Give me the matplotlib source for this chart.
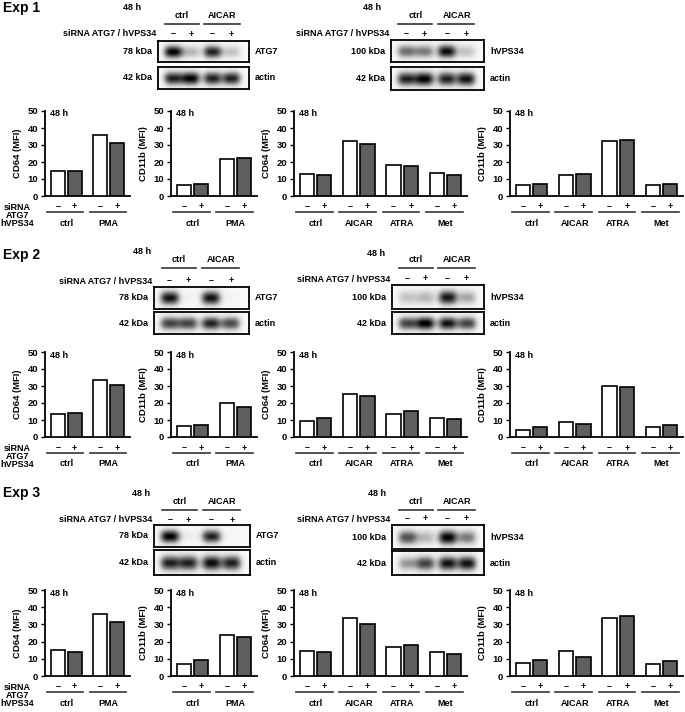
import numpy as np
import matplotlib
matplotlib.use('Agg')
import matplotlib.pyplot as plt
from matplotlib.transforms import blended_transform_factory

plt.rcParams['font.family'] = ['Liberation Sans', 'DejaVu Sans']
plt.rcParams['font.weight'] = 'bold'

# ---------------- data ----------------
groups_pma = ['ctrl', 'PMA']
groups_ind = ['ctrl', 'AICAR', 'ATRA', 'Met']
sirna_marks = ['\u2013', '+']

# Exp 1 (MFI), siRNA - / +
e1_cd64_pma_neg = [15.0, 35.7]
e1_cd64_pma_pos = [14.7, 31.1]
e1_cd11b_pma_neg = [6.3, 21.8]
e1_cd11b_pma_pos = [6.9, 22.2]
e1_cd64_ind_neg = [13.2, 32.2, 18.1, 13.7]
e1_cd64_ind_pos = [12.5, 30.3, 17.8, 12.5]
e1_cd11b_ind_neg = [6.2, 12.4, 32.6, 6.4]
e1_cd11b_ind_pos = [6.8, 12.9, 33.2, 7.3]
# Exp 2
e2_cd64_pma_neg = [13.7, 33.5]
e2_cd64_pma_pos = [13.9, 30.4]
e2_cd11b_pma_neg = [6.2, 20.0]
e2_cd11b_pma_pos = [7.2, 17.8]
e2_cd64_ind_neg = [9.2, 25.5, 13.5, 11.0]
e2_cd64_ind_pos = [11.0, 23.9, 15.3, 10.6]
e2_cd11b_ind_neg = [4.3, 8.8, 30.2, 5.9]
e2_cd11b_ind_pos = [6.1, 7.6, 29.6, 7.3]
# Exp 3
e3_cd64_pma_neg = [15.1, 36.0]
e3_cd64_pma_pos = [14.1, 31.4]
e3_cd11b_pma_neg = [7.1, 24.0]
e3_cd11b_pma_pos = [9.2, 22.7]
e3_cd64_ind_neg = [14.7, 33.5, 16.9, 13.8]
e3_cd64_ind_pos = [13.8, 30.2, 17.8, 13.0]
e3_cd11b_ind_neg = [7.7, 14.5, 33.9, 7.0]
e3_cd11b_ind_pos = [9.1, 10.9, 35.1, 8.5]

# Western blot band intensities (lanes: ctrl-, ctrl+, AICAR-, AICAR+)
e1_atg7 = [0.95, 0.35, 0.85, 0.30]
e1_actin_l = [0.85, 0.95, 0.85, 0.85]
e1_vps34 = [0.60, 0.55, 0.92, 0.30]
e1_actin_r = [0.85, 0.95, 0.85, 0.90]
e2_atg7 = [0.90, 0.05, 0.90, 0.04]
e2_actin_l = [0.75, 0.75, 0.85, 0.72]
e2_vps34 = [0.30, 0.35, 0.88, 0.40]
e2_actin_r = [0.75, 0.97, 0.90, 0.75]
e3_atg7 = [0.95, 0.10, 0.85, 0.03]
e3_actin_l = [0.85, 0.85, 0.92, 0.85]
e3_vps34 = [0.70, 0.35, 0.95, 0.55]
e3_actin_r = [0.45, 0.75, 0.90, 0.90]

# ---------------- figure ----------------
W, H = 685, 712
fig = plt.figure(figsize=(W / 100, H / 100), dpi=100)
ov = fig.add_axes([0, 0, 1, 1], zorder=5)
ov.set_xlim(0, W)
ov.set_ylim(H, 0)
ov.axis('off')
ov.patch.set_visible(False)

FS = 6.5
GRAY = '#5f5f5f'


def ax_px(x0, y0, x1, y1):
    return fig.add_axes([x0 / W, 1 - y1 / H, (x1 - x0) / W, (y1 - y0) / H])


def t(x, y, s, ha='center', va='center', size=FS, **kw):
    ov.text(x, y, s, ha=ha, va=va, fontsize=size, fontweight='bold', **kw)


def bar_panel(x0, x1, ytop, ybot, groups, neg, pos, ylabel, left_labels=False):
    ax = ax_px(x0, ytop, x1, ybot)
    n = len(groups)
    xs = np.arange(n)
    ax.bar(xs - 0.2, neg, width=0.33, color='white', edgecolor='black', linewidth=1.2, zorder=3)
    ax.bar(xs + 0.2, pos, width=0.33, color=GRAY, edgecolor='black', linewidth=1.2, zorder=3)
    ax.set_xlim(-0.5, n - 0.5)
    ax.set_ylim(0, 50)
    ax.set_yticks([0, 10, 20, 30, 40, 50])
    ax.set_xticks([])
    for s in ['top', 'right']:
        ax.spines[s].set_visible(False)
    for s in ['left', 'bottom']:
        ax.spines[s].set_linewidth(1.3)
    ax.tick_params(axis='y', length=3, width=1, labelsize=FS + 0.3, pad=2)
    for lab in ax.get_yticklabels():
        lab.set_fontweight('bold')
    ax.patch.set_visible(False)
    t(x0 - 27, (ytop + ybot) / 2, ylabel, rotation=90, size=FS + 0.3)
    t(x0 + 5, ytop + 3, '48 h', ha='left')
    tr = blended_transform_factory(ax.transData, ov.transData)
    for i, g in enumerate(groups):
        ax.text(i - 0.2, ybot + 11, sirna_marks[0], transform=tr, ha='center', va='center',
                fontsize=FS, fontweight='bold', clip_on=False)
        ax.text(i + 0.2, ybot + 11, sirna_marks[1], transform=tr, ha='center', va='center',
                fontsize=FS, fontweight='bold', clip_on=False)
        ax.plot([i - 0.45, i + 0.4], [ybot + 16, ybot + 16], transform=tr, color='#333333',
                lw=1.2, clip_on=False)
        ax.text(i, ybot + 27, g, transform=tr, ha='center', va='center',
                fontsize=FS, fontweight='bold', clip_on=False)
    if left_labels:
        t(17, ybot + 11.5, 'siRNA')
        t(17, ybot + 19.5, 'ATG7')
        t(17, ybot + 27.5, 'hVPS34')
    return ax


LANE_FR = np.array([0.165, 0.36, 0.6, 0.81])


def band_box(x0, x1, y0, y1, intens):
    ax = ax_px(x0, y0, x1, y1)
    xx, yy = np.meshgrid(np.linspace(0, 4, 240), np.linspace(0, 1, 70))
    img = np.full(xx.shape, 0.05)
    for lane, v in zip(LANE_FR * 4, intens):
        img += v * np.exp(-np.abs((xx - lane) / 0.42) ** 3 - ((yy - 0.52) / 0.32) ** 2)
    img = np.clip(img, 0, 1)
    ax.imshow(img, cmap='Greys', vmin=0, vmax=1.0, extent=[0, 4, 0, 1], aspect='auto',
              interpolation='bilinear')
    ax.set_xticks([])
    ax.set_yticks([])
    for s in ax.spines.values():
        s.set_linewidth(1.3)
    return ax


def blot(bx0, bx1, b1, b2, x48, y48, yctrl, yline, ypm, prot, kda, i1, i2):
    band_box(bx0, bx1, b1[0], b1[1], i1)
    band_box(bx0, bx1, b2[0], b2[1], i2)
    lanes = bx0 + LANE_FR * (bx1 - bx0)
    t(x48, y48, '48 h', ha='left')
    t((lanes[0] + lanes[1]) / 2, yctrl, 'ctrl')
    t((lanes[2] + lanes[3]) / 2, yctrl, 'AICAR')
    ov.plot([lanes[0] - 8, lanes[1] + 8], [yline, yline], color='#333333', lw=1.2)
    ov.plot([lanes[2] - 9, lanes[3] + 8], [yline, yline], color='#333333', lw=1.2)
    t(bx0 - 2, ypm, 'siRNA ATG7 / hVPS34', ha='right')
    for k, lx in enumerate(lanes):
        t(lx, ypm, sirna_marks[k % 2])
    t(bx0 - 6, (b1[0] + b1[1]) / 2, kda, ha='right')
    t(bx0 - 6, (b2[0] + b2[1]) / 2, '42 kDa', ha='right')
    t(bx1 + 6, (b1[0] + b1[1]) / 2, prot, ha='left')
    t(bx1 + 6, (b2[0] + b2[1]) / 2, 'actin', ha='left')


# ---------- Exp 1 ----------
t(3, 8, 'Exp 1', ha='left', size=10)
blot(158, 249, (41, 62), (67, 89), 123, 7, 16, 24, 34, 'ATG7', '78 kDa', e1_atg7, e1_actin_l)
blot(391, 484, (40, 62), (67, 90), 363, 7, 16, 24, 34, 'hVPS34', '100 kDa', e1_vps34, e1_actin_r)
r1 = (111, 196)
bar_panel(45, 130, *r1, groups_pma, e1_cd64_pma_neg, e1_cd64_pma_pos, 'CD64 (MFI)', True)
bar_panel(171, 257, *r1, groups_pma, e1_cd11b_pma_neg, e1_cd11b_pma_pos, 'CD11b (MFI)')
bar_panel(294, 467, *r1, groups_ind, e1_cd64_ind_neg, e1_cd64_ind_pos, 'CD64 (MFI)')
bar_panel(510, 683, *r1, groups_ind, e1_cd11b_ind_neg, e1_cd11b_ind_pos, 'CD11b (MFI)')

# ---------- Exp 2 ----------
t(3, 255, 'Exp 2', ha='left', size=10)
blot(154, 249, (287, 309), (312, 334), 133, 252, 259, 268, 281, 'ATG7', '78 kDa', e2_atg7, e2_actin_l)
blot(392, 484, (285, 309), (312, 334), 367, 253, 259, 268, 279, 'hVPS34', '100 kDa', e2_vps34, e2_actin_r)
r2 = (352, 437)
bar_panel(45, 130, *r2, groups_pma, e2_cd64_pma_neg, e2_cd64_pma_pos, 'CD64 (MFI)', True)
bar_panel(171, 257, *r2, groups_pma, e2_cd11b_pma_neg, e2_cd11b_pma_pos, 'CD11b (MFI)')
bar_panel(294, 467, *r2, groups_ind, e2_cd64_ind_neg, e2_cd64_ind_pos, 'CD64 (MFI)')
bar_panel(510, 683, *r2, groups_ind, e2_cd11b_ind_neg, e2_cd11b_ind_pos, 'CD11b (MFI)')

# ---------- Exp 3 ----------
t(3, 493, 'Exp 3', ha='left', size=10)
blot(154, 250, (525, 547), (550, 575), 132, 494, 502, 510, 520, 'ATG7', '78 kDa', e3_atg7, e3_actin_l)
blot(392, 484, (525, 549), (551, 575), 368, 493, 502, 510, 519, 'hVPS34', '100 kDa', e3_vps34, e3_actin_r)
r3 = (590, 676)
bar_panel(45, 130, *r3, groups_pma, e3_cd64_pma_neg, e3_cd64_pma_pos, 'CD64 (MFI)', True)
bar_panel(171, 257, *r3, groups_pma, e3_cd11b_pma_neg, e3_cd11b_pma_pos, 'CD11b (MFI)')
bar_panel(294, 467, *r3, groups_ind, e3_cd64_ind_neg, e3_cd64_ind_pos, 'CD64 (MFI)')
bar_panel(510, 683, *r3, groups_ind, e3_cd11b_ind_neg, e3_cd11b_ind_pos, 'CD11b (MFI)')

fig.savefig('out.png', dpi=100)
